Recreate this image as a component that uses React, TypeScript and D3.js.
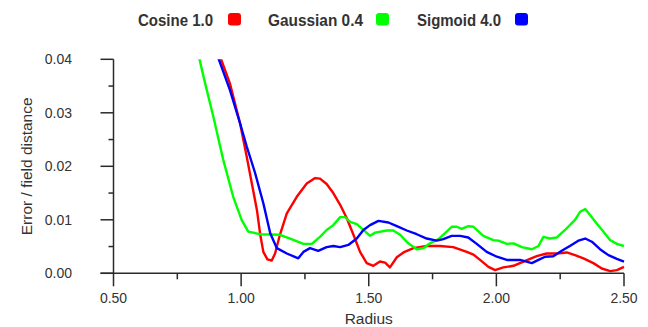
import React from 'react';
import * as d3 from 'd3';

// Error vs radius for three kernels
const cosineR = [0.916, 0.920, 0.956, 0.996, 1.022, 1.042, 1.062, 1.074, 1.087, 1.103, 1.120, 1.133, 1.152, 1.179, 1.218, 1.257, 1.290, 1.309, 1.335, 1.361, 1.388, 1.414, 1.440, 1.466, 1.492, 1.518, 1.544, 1.564, 1.583, 1.610, 1.636, 1.675, 1.727, 1.779, 1.831, 1.884, 1.910, 1.936, 1.969, 1.995, 2.027, 2.067, 2.106, 2.158, 2.197, 2.237, 2.276, 2.308, 2.341, 2.380, 2.413, 2.446, 2.472, 2.500];
const cosineE = [0.0410, 0.0402, 0.0355, 0.0280, 0.0218, 0.0168, 0.0118, 0.0075, 0.0040, 0.0026, 0.0024, 0.0037, 0.0072, 0.0112, 0.0143, 0.0168, 0.0178, 0.0177, 0.0167, 0.0150, 0.0128, 0.0103, 0.0072, 0.0040, 0.0019, 0.0014, 0.0022, 0.0020, 0.0011, 0.0030, 0.0039, 0.0047, 0.0051, 0.0051, 0.0049, 0.0040, 0.0035, 0.0025, 0.0012, 0.0006, 0.0011, 0.0014, 0.0022, 0.0032, 0.0037, 0.0037, 0.0039, 0.0034, 0.0028, 0.0019, 0.0009, 0.0004, 0.0006, 0.0012];

const gaussR = [0.833, 0.836, 0.859, 0.891, 0.930, 0.969, 1.002, 1.028, 1.074, 1.152, 1.192, 1.244, 1.277, 1.309, 1.335, 1.361, 1.388, 1.407, 1.427, 1.453, 1.479, 1.505, 1.525, 1.571, 1.596, 1.623, 1.655, 1.688, 1.714, 1.740, 1.773, 1.799, 1.825, 1.845, 1.864, 1.890, 1.910, 1.923, 1.949, 1.988, 2.008, 2.041, 2.067, 2.100, 2.139, 2.165, 2.184, 2.210, 2.237, 2.269, 2.308, 2.328, 2.348, 2.367, 2.393, 2.419, 2.446, 2.472, 2.500];
const gaussE = [0.0410, 0.0402, 0.0355, 0.0293, 0.0212, 0.0143, 0.0100, 0.0078, 0.0073, 0.0072, 0.0065, 0.0055, 0.0055, 0.0068, 0.0081, 0.0090, 0.0105, 0.0105, 0.0096, 0.0092, 0.0081, 0.0070, 0.0076, 0.0080, 0.0080, 0.0072, 0.0056, 0.0045, 0.0047, 0.0056, 0.0064, 0.0075, 0.0087, 0.0087, 0.0083, 0.0088, 0.0087, 0.0081, 0.0070, 0.0062, 0.0061, 0.0055, 0.0056, 0.0049, 0.0045, 0.0051, 0.0068, 0.0065, 0.0067, 0.0081, 0.0100, 0.0115, 0.0120, 0.0109, 0.0093, 0.0078, 0.0062, 0.0055, 0.0051];

const sigmoidR = [0.907, 0.911, 0.956, 0.996, 1.022, 1.055, 1.087, 1.114, 1.140, 1.179, 1.224, 1.244, 1.270, 1.302, 1.335, 1.361, 1.388, 1.420, 1.453, 1.479, 1.505, 1.538, 1.577, 1.610, 1.649, 1.688, 1.727, 1.766, 1.792, 1.825, 1.858, 1.890, 1.923, 1.962, 2.002, 2.041, 2.093, 2.139, 2.165, 2.191, 2.223, 2.256, 2.288, 2.321, 2.348, 2.374, 2.406, 2.439, 2.472, 2.500];
const sigmoidE = [0.0410, 0.0402, 0.0343, 0.0280, 0.0237, 0.0187, 0.0131, 0.0075, 0.0047, 0.0037, 0.0028, 0.0040, 0.0047, 0.0042, 0.0049, 0.0051, 0.0049, 0.0053, 0.0065, 0.0081, 0.0090, 0.0098, 0.0095, 0.0088, 0.0080, 0.0073, 0.0065, 0.0061, 0.0064, 0.0070, 0.0070, 0.0067, 0.0055, 0.0040, 0.0031, 0.0025, 0.0025, 0.0019, 0.0025, 0.0031, 0.0032, 0.0042, 0.0051, 0.0061, 0.0065, 0.0059, 0.0045, 0.0034, 0.0027, 0.0022];

const seriesNames = ['Cosine 1.0', 'Gaussian 0.4', 'Sigmoid 4.0'];
const seriesColors = ['#ff0000', '#00ff00', '#0000ff'];
const xTicks = [0.5, 1.0, 1.5, 2.0, 2.5];
const yTicks = [0, 0.01, 0.02, 0.03, 0.04];

export default function App() {
  const width = 648;
  const height = 327;
  const left = 113.5, right = 624, top = 59.3, bottom = 273.3;

  const x = d3.scaleLinear().domain([0.5, 2.5]).range([left, right]);
  const y = d3.scaleLinear().domain([0, 0.04]).range([bottom, top]);

  const series = [
    { r: cosineR, e: cosineE },
    { r: gaussR, e: gaussE },
    { r: sigmoidR, e: sigmoidE },
  ];

  const line = d3.line<[number, number]>()
    .x(d => x(d[0]))
    .y(d => y(d[1]));

  const minorX = d3.range(0.75, 2.5, 0.5);
  const minorY = d3.range(0.005, 0.04, 0.01);
  const axisColor = '#2a2a2a';
  const textColor = '#333';
  const font = '"Liberation Sans", Arial, sans-serif';

  // legend layout: text start, square start
  const legendText = [138, 268, 417];
  const legendTextW = [75, 95, 84];
  const legendBox = [228, 376, 515];

  return (
    <svg width={width} height={height} style={{ position: 'absolute', left: 0, top: 0, background: '#fff' }} fontFamily={font}>
      <defs>
        <clipPath id="plot">
          <rect x={left} y={top} width={right - left + 2} height={bottom - top + 2} />
        </clipPath>
      </defs>

      {/* legend */}
      {seriesNames.map((name, i) => (
        <g key={name}>
          <text x={legendText[i]} y={26} fontSize={16} fontWeight="bold" fill={textColor}
            textLength={legendTextW[i]} lengthAdjust="spacingAndGlyphs">{name}</text>
          <rect x={legendBox[i]} y={13} width={13} height={12.5} rx={3} fill={seriesColors[i]} />
        </g>
      ))}

      {/* lines */}
      <g clipPath="url(#plot)">
        {series.map((s, i) => (
          <path key={i}
            d={line(s.r.map((r, j) => [r, s.e[j]] as [number, number])) || ''}
            fill="none" stroke={seriesColors[i]} strokeWidth={2.4} strokeLinejoin="round" />
        ))}
      </g>

      {/* axes */}
      <g stroke={axisColor} strokeWidth={1.5}>
        <line x1={left} x2={left} y1={top} y2={bottom} />
        <line x1={left - 13} x2={right} y1={bottom} y2={bottom} />
        {yTicks.map(t => <line key={'yt' + t} x1={left - 13} x2={left} y1={y(t)} y2={y(t)} />)}
        {minorY.map(t => <line key={'ym' + t} x1={left - 5} x2={left} y1={y(t)} y2={y(t)} />)}
        {xTicks.map(t => <line key={'xt' + t} x1={x(t)} x2={x(t)} y1={bottom} y2={bottom + 13} />)}
        {minorX.map(t => <line key={'xm' + t} x1={x(t)} x2={x(t)} y1={bottom} y2={bottom + 6} />)}
      </g>

      {yTicks.map(t => (
        <text key={'yl' + t} x={72} y={y(t)} dy="0.36em" textAnchor="end" fontSize={14} fill={textColor}>
          {d3.format('.2f')(t)}
        </text>
      ))}
      {xTicks.map(t => (
        <text key={'xl' + t} x={x(t)} y={303} textAnchor="middle" fontSize={14} fill={textColor}>
          {d3.format('.2f')(t)}
        </text>
      ))}

      <text x={(left + right) / 2} y={324} textAnchor="middle" fontSize={15.5} fill={textColor}>Radius</text>
      <text transform={`translate(32,${(top + bottom) / 2}) rotate(-90)`} textAnchor="middle" fontSize={15.5} fill={textColor}>
        Error / field distance
      </text>
    </svg>
  );
}
